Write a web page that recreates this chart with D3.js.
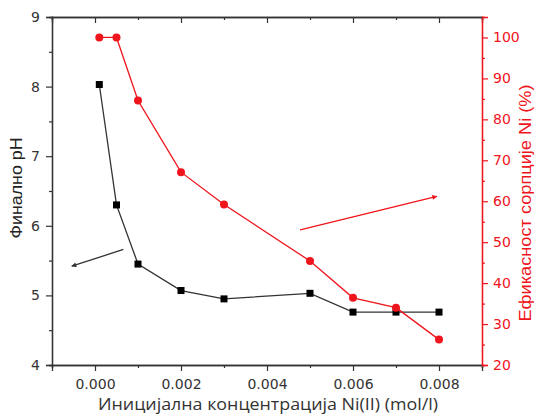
<!DOCTYPE html>
<html>
<head>
<meta charset="utf-8">
<script src="https://cdn.jsdelivr.net/npm/d3@7"></script>
<style>
  html, body { margin: 0; padding: 0; background: #fff; }
  svg { display: block; }
</style>
</head>
<body>
<svg id="chart" width="538" height="415"></svg>
<script>
// Initial Ni(II) concentration (mol/l)
const concentration = [0.0001, 0.0005, 0.001, 0.002, 0.003, 0.005, 0.006, 0.007, 0.008];
// Final pH (left axis)
const finalPH = [8.03, 6.30, 5.45, 5.07, 4.95, 5.03, 4.76, 4.76, 4.76];
// Sorption efficiency of Ni, % (right axis)
const efficiency = [100, 100, 84.6, 67.1, 59.2, 45.4, 36.4, 34.0, 26.2];

const xTicks = [0.000, 0.002, 0.004, 0.006, 0.008];
const xMinorTicks = [-0.001, 0.001, 0.003, 0.005, 0.007, 0.009];
const phTicks = [4, 5, 6, 7, 8, 9];
const phMinorTicks = [4.5, 5.5, 6.5, 7.5, 8.5];
const effTicks = [20, 30, 40, 50, 60, 70, 80, 90, 100];
const effMinorTicks = [25, 35, 45, 55, 65, 75, 85, 95];

// Arrows pointing to each series' axis: [x, value] from -> to
const phArrow = [[0.00066, 5.66], [-0.00054, 5.42]];
const effArrow = [[0.00477, 53.0], [0.00795, 61.2]];

const xLabel = "Иницијална концентрација Ni(II) (mol/l)";
const phLabel = "Финално pH";
const effLabel = "Ефикасност сорпције Ni (%)";

const RED = "#f0141c";
const GREY = "#333";
const margin = { left: 52, right: 56, top: 17, bottom: 50 };
const W = 538, H = 415;

const svg = d3.select("#chart");
const x = d3.scaleLinear().domain([-0.001, 0.009]).range([margin.left, W - margin.right]);
const yPH = d3.scaleLinear().domain([4, 9]).range([H - margin.bottom, margin.top]);
const yEff = d3.scaleLinear().domain([20, 105]).range([H - margin.bottom, margin.top]);

const tickFont = "DejaVu Sans, sans-serif";
const titleFont = "Liberation Sans, Arial, sans-serif";

// Bottom axis
svg.append("g").attr("transform", `translate(0,${H - margin.bottom})`)
  .call(d3.axisBottom(x).tickValues(xTicks).tickFormat(d3.format(".3f")).tickSize(6).tickPadding(8));
svg.append("g").attr("transform", `translate(0,${H - margin.bottom})`)
  .call(d3.axisBottom(x).tickValues(xMinorTicks).tickFormat("").tickSize(3));
// Top axis (mirrored ticks, inward)
svg.append("g").attr("transform", `translate(0,${margin.top})`)
  .call(d3.axisBottom(x).tickValues(xTicks).tickFormat("").tickSize(6));
svg.append("g").attr("transform", `translate(0,${margin.top})`)
  .call(d3.axisBottom(x).tickValues(xMinorTicks).tickFormat("").tickSize(3));

// Left axis
svg.append("g").attr("transform", `translate(${margin.left},0)`)
  .call(d3.axisLeft(yPH).tickValues(phTicks).tickFormat(d3.format("d")).tickSize(6).tickPadding(6));
svg.append("g").attr("transform", `translate(${margin.left},0)`)
  .call(d3.axisLeft(yPH).tickValues(phMinorTicks).tickFormat("").tickSize(3));

// Right axis (red)
svg.append("g").attr("class", "red").attr("transform", `translate(${W - margin.right},0)`)
  .call(d3.axisRight(yEff).tickValues(effTicks).tickFormat(d3.format("d")).tickSize(6).tickPadding(5));
svg.append("g").attr("class", "red").attr("transform", `translate(${W - margin.right},0)`)
  .call(d3.axisRight(yEff).tickValues(effMinorTicks).tickFormat("").tickSize(3));

svg.selectAll(".domain").attr("stroke", GREY).attr("stroke-width", 1.3);
svg.selectAll(".tick line").attr("stroke", GREY).attr("stroke-width", 1.2);
svg.selectAll(".tick text").attr("font-family", tickFont).attr("font-size", 14).attr("fill", GREY);
svg.selectAll(".red .domain").attr("stroke", RED);
svg.selectAll(".red .tick line").attr("stroke", RED);
svg.selectAll(".red .tick text").attr("fill", RED);

// Black series: final pH
const phLine = d3.line().x((d, i) => x(concentration[i])).y(d => yPH(d));
svg.append("path").datum(finalPH).attr("d", phLine)
  .attr("fill", "none").attr("stroke", GREY).attr("stroke-width", 1.3);
svg.append("g").selectAll("rect").data(finalPH).join("rect")
  .attr("x", (d, i) => x(concentration[i]) - 3.5).attr("y", d => yPH(d) - 3.5)
  .attr("width", 7).attr("height", 7).attr("fill", "#000");

// Red series: sorption efficiency
const effLine = d3.line().x((d, i) => x(concentration[i])).y(d => yEff(d));
svg.append("path").datum(efficiency).attr("d", effLine)
  .attr("fill", "none").attr("stroke", RED).attr("stroke-width", 1.3);
svg.append("g").selectAll("circle").data(efficiency).join("circle")
  .attr("cx", (d, i) => x(concentration[i])).attr("cy", d => yEff(d))
  .attr("r", 4).attr("fill", RED);

// Arrows
const defs = svg.append("defs");
function marker(id, color) {
  defs.append("marker").attr("id", id).attr("viewBox", "0 0 10 10")
    .attr("refX", 9).attr("refY", 5).attr("markerWidth", 7).attr("markerHeight", 5)
    .attr("orient", "auto").attr("markerUnits", "userSpaceOnUse")
    .append("path").attr("d", "M0,0 L10,5 L0,10 Z").attr("fill", color);
}
marker("arrowBlack", GREY);
marker("arrowRed", RED);
svg.append("line")
  .attr("x1", x(phArrow[0][0])).attr("y1", yPH(phArrow[0][1]))
  .attr("x2", x(phArrow[1][0])).attr("y2", yPH(phArrow[1][1]))
  .attr("stroke", GREY).attr("stroke-width", 1.3).attr("marker-end", "url(#arrowBlack)");
svg.append("line")
  .attr("x1", x(effArrow[0][0])).attr("y1", yEff(effArrow[0][1]))
  .attr("x2", x(effArrow[1][0])).attr("y2", yEff(effArrow[1][1]))
  .attr("stroke", RED).attr("stroke-width", 1.3).attr("marker-end", "url(#arrowRed)");

// Axis titles
svg.append("text").text(xLabel)
  .attr("x", 268).attr("y", 410)
  .attr("text-anchor", "middle").attr("font-family", "Open Sans, sans-serif")
  .attr("font-size", 16).attr("fill", GREY)
  .attr("textLength", 340).attr("lengthAdjust", "spacingAndGlyphs");
svg.append("text").text(phLabel)
  .attr("transform", `translate(22,188) rotate(-90)`)
  .attr("text-anchor", "middle").attr("font-family", titleFont)
  .attr("font-size", 16).attr("fill", "#222")
  .attr("textLength", 101).attr("lengthAdjust", "spacingAndGlyphs");
svg.append("text").text(effLabel)
  .attr("transform", `translate(531,203) rotate(-90)`)
  .attr("text-anchor", "middle").attr("font-family", titleFont)
  .attr("font-size", 16.5).attr("fill", RED)
  .attr("textLength", 237).attr("lengthAdjust", "spacingAndGlyphs");
</script>
</body>
</html>
